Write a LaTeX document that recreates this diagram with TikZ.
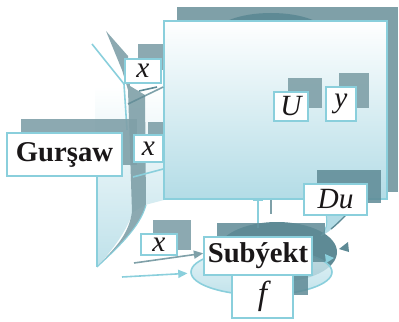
\documentclass[tikz,border=0pt]{standalone}
\usepackage{fontspec}
\setmainfont{Liberation Serif}
\usetikzlibrary{arrows.meta,shapes.geometric,calc}
\definecolor{shadowc}{HTML}{7FA0A8}
\definecolor{darkc}{HTML}{5E8A95}
\definecolor{borderc}{HTML}{8ACFDC}
\definecolor{lightc}{HTML}{B3DCE6}
\definecolor{palec}{HTML}{DDF0F5}
\definecolor{inkc}{HTML}{1A1718}
\tikzset{
  lbl/.style={draw=borderc, line width=1.2pt, fill=white, inner sep=0pt, text=inkc},
  shd/.style={fill=shadowc, fill opacity=0.9},
  var/.style={lbl, font=\fontsize{22}{22}\selectfont\itshape},
  bname/.style={lbl, font=\fontsize{21.5}{21.5}\selectfont\bfseries},
  conn/.style={line width=1.2pt},
}
\begin{document}
\begin{tikzpicture}[x=0.75pt,y=-0.75pt]
\useasboundingbox (0,0) rectangle (399,321);
% big background shadow
\fill[shadowc] (177,7) rectangle (398,192);
\fill[darkc] (271,35) ellipse [x radius=57, y radius=22];
% left decorations
\shade[top color=white, bottom color=lightc!85!white] (95,86) -- (164,86) -- (164,200) -- (145,205) -- (133,212) .. controls (125,235) and (110,252) .. (97,267) -- cycle;
\draw[borderc, line width=0.8pt] (97,150) -- (97,267);
\fill[shadowc, fill opacity=0.9] (106,31) -- (128,56) -- (130,86) -- (145,95) -- (146,205) .. controls (140,228) and (115,250) .. (97,267) .. controls (112,250) and (128,238) .. (132,212) -- (128,90) -- (122,70) -- cycle;
\draw[borderc, conn] (92,44) -- (124,84) -- (127,130);
\draw[borderc, line width=0.8pt] (146,205) .. controls (140,228) and (115,250) .. (97,267);
% shadows behind main box
\fill[shd] (138,44) rectangle (170,70);
\fill[shd] (21,119) rectangle (137,165);
\fill[shd] (148,122) rectangle (170,150);
% main box
\node[draw=borderc, line width=1.2pt, top color=white, bottom color=lightc, minimum width=223*0.75pt, minimum height=178*0.75pt, inner sep=0pt] (env) at (275.5,110) {};
% shadows on main box
\fill[shd] (288,78) rectangle (322,108);
\fill[shd] (339,73) rectangle (369,108);
\fill[darkc, fill opacity=0.85] (317,170) rectangle (381,203);
% lines to the main box
\draw[darkc, conn, opacity=0.8] (128,104) -- ($(env.west)+(0,-23)$);
\draw[darkc, conn] (139,91) -- (157,87);
\draw[borderc, conn] (133,177) -- ($(env.west)+(0,59)$);
% bottom loop
\node[ellipse, fill=darkc, minimum width=120*0.75pt, minimum height=60*0.75pt] (ring) at (277,252) {};
\node[ellipse, draw=borderc, line width=1.2pt, top color=palec, bottom color=lightc, fill opacity=0.8, minimum width=141*0.75pt, minimum height=46*0.75pt] (loop) at (261.5,272) {};
\fill[darkc] (339,249) -- (348,242) -- (349,252) -- cycle;
\fill[borderc] (325,254) -- (334,258) -- (326,263) -- cycle;
% connectors from main box
\draw[borderc, conn] ($(env.south)+(-17.5,0)$) -- ($(env.south)+(-17.5,28)$);
\draw[borderc, conn] ($(env.south)+(-22.5,0)$) -- ($(env.south)+(-12.5,0)$);
\draw[shadowc, conn] ($(env.south)+(-4.5,0)$) -- ($(env.south)+(-4.5,14)$);
% Du tail
\fill[lightc] (326,214) .. controls (328,225) and (326,230) .. (321,236) .. controls (332,231) and (338,222) .. (346,215) -- cycle;
\draw[borderc, line width=0.8pt] (326,214) .. controls (328,225) and (326,230) .. (321,236);
\draw[darkc, line width=1pt] (346,215) .. controls (340,221) and (336,225) .. (331,229);
% shadows near bottom
\fill[shd] (153,220) rectangle (191,250);
\fill[darkc, fill opacity=0.85] (217,223) rectangle (325,262);
\fill[darkc, fill opacity=0.85] (245,262) rectangle (308,295);
% labels
\node[var, minimum width=36*0.75pt, minimum height=24*0.75pt] (xa) at (143,71) {x};
\node[bname, minimum width=115*0.75pt, minimum height=43*0.75pt] (env2) at (64.5,154.5) {Gurşaw};
\node[var, minimum width=29*0.75pt, minimum height=27*0.75pt] (xb) at (148.5,148.5) {x};
\node[var, minimum width=34*0.75pt, minimum height=29*0.75pt] (u) at (291,106.5) {U};
\node[var, minimum width=30*0.75pt, minimum height=34*0.75pt] (y) at (341,104) {y};
\node[var, minimum width=63*0.75pt, minimum height=31*0.75pt] (du) at (335.5,199.5) {Du};
\node[var, minimum width=36*0.75pt, minimum height=21*0.75pt] (xc) at (159,244.5) {x};
\node[bname, minimum width=108*0.75pt, minimum height=38*0.75pt] (sub) at (258,256) {Subýekt};
\node[var, minimum width=61*0.75pt, minimum height=43*0.75pt, font=\fontsize{25}{25}\selectfont\itshape] (f) at (262.5,296.5) {f};
% input arrows
\coordinate (in1) at (134,263);
\coordinate (in2) at (122,277);
\draw[shadowc, conn, -{Triangle[length=7pt,width=6pt]}] (in1) -- ([yshift=2]sub.west);
\draw[borderc, conn, -{Triangle[length=7pt,width=6pt]}] (in2) -- ([xshift=-2,yshift=-1]loop.west);
\end{tikzpicture}
\end{document}
